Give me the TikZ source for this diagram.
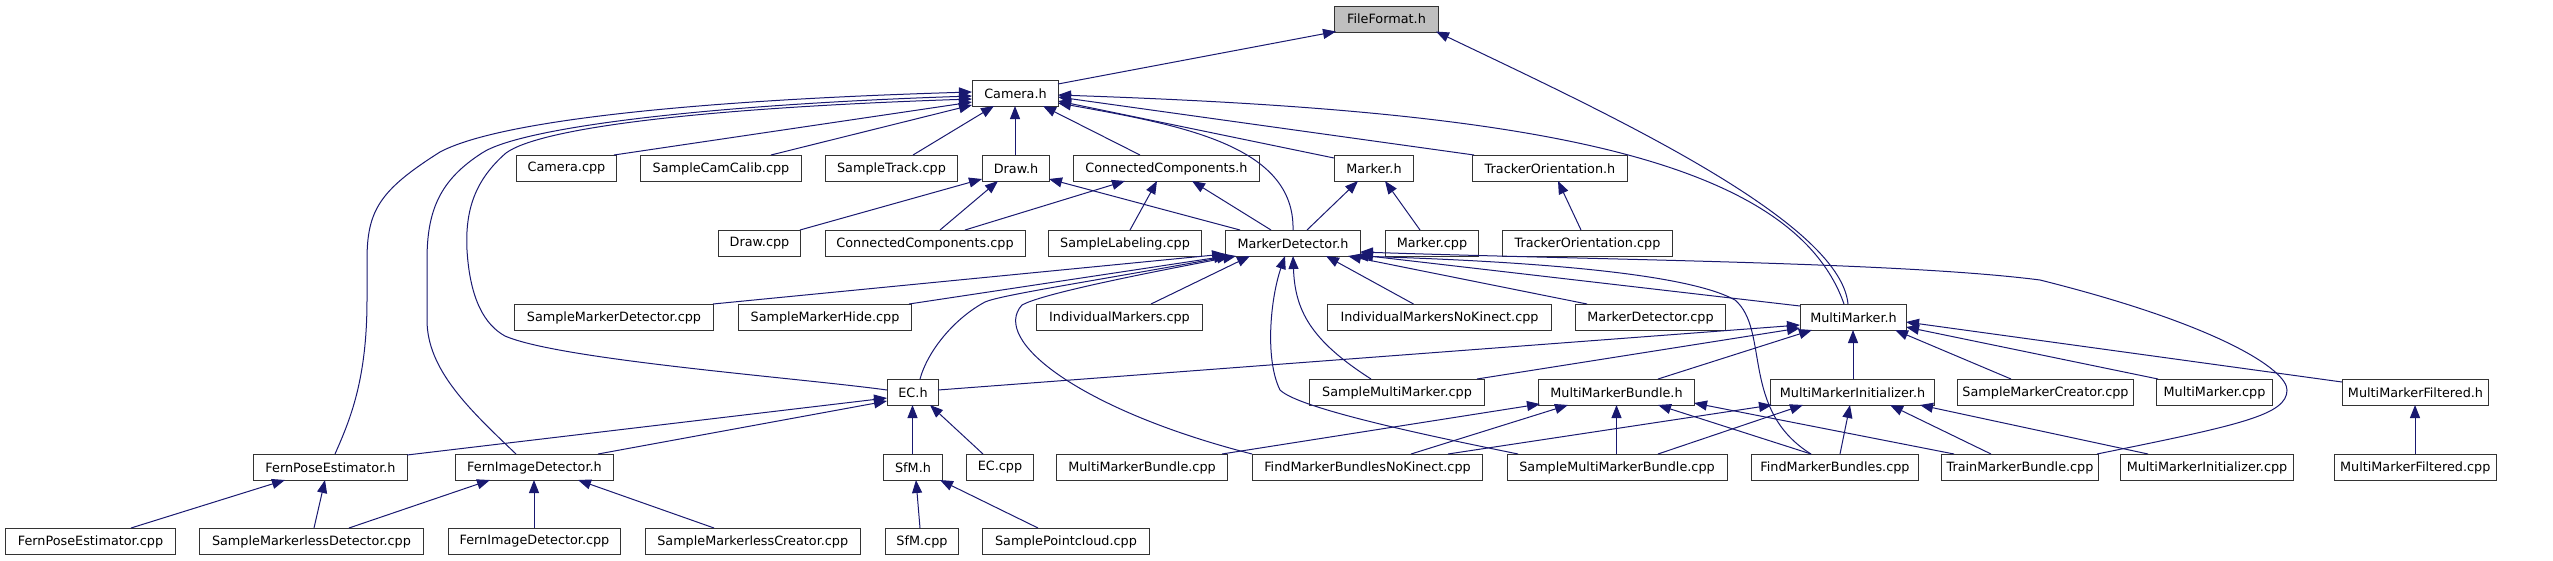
\documentclass[tikz,border=0pt]{standalone}
\usepackage{fontspec}
\setmainfont{DejaVu Sans}
\usetikzlibrary{arrows.meta}
\definecolor{edgeblue}{HTML}{191970}
\definecolor{boxline}{HTML}{333333}
\definecolor{hilite}{HTML}{BFBFBF}
\tikzset{
  box/.style={draw=boxline, line width=1pt, fill=white, anchor=north west,
    minimum height=26pt, inner sep=0pt, font=\fontsize{12.8}{14}\selectfont},
  dep/.style={draw=edgeblue, line width=1pt, arrows={Triangle[length=13pt,width=10pt]-}}
}
\begin{document}
\begin{tikzpicture}[x=1pt,y=-1pt]
\useasboundingbox (0,0) rectangle (2553,560);
% row 0
\node[box,minimum width=104pt,fill=hilite] (ff) at (1334,5.5) {FileFormat.h};
% row 1
\node[box,minimum width=86pt] (camh) at (972,80) {Camera.h};
% row 2
\node[box,minimum width=100pt] (campp) at (516,155) {Camera.cpp};
\node[box,minimum width=161pt] (scc) at (640,155) {SampleCamCalib.cpp};
\node[box,minimum width=132pt] (st) at (825,155) {SampleTrack.cpp};
\node[box,minimum width=67pt] (drawh) at (982,155) {Draw.h};
\node[box,minimum width=186pt] (cch) at (1073,155) {ConnectedComponents.h};
\node[box,minimum width=79pt] (markh) at (1334,155) {Marker.h};
\node[box,minimum width=155pt] (toh) at (1472,155) {TrackerOrientation.h};
% row 3
\node[box,minimum width=82pt] (drawcpp) at (718,230) {Draw.cpp};
\node[box,minimum width=200pt] (cccpp) at (824.5,230) {ConnectedComponents.cpp};
\node[box,minimum width=153pt] (slab) at (1048,230) {SampleLabeling.cpp};
\node[box,minimum width=135pt] (mdh) at (1225,230) {MarkerDetector.h};
\node[box,minimum width=93pt] (markcpp) at (1385,230) {Marker.cpp};
\node[box,minimum width=170pt] (tocpp) at (1502,230) {TrackerOrientation.cpp};
% row 4
\node[box,minimum width=199pt] (smd) at (514,304) {SampleMarkerDetector.cpp};
\node[box,minimum width=173pt] (smh) at (738,304) {SampleMarkerHide.cpp};
\node[box,minimum width=166pt] (im) at (1036,304) {IndividualMarkers.cpp};
\node[box,minimum width=224pt] (imnk) at (1327,304) {IndividualMarkersNoKinect.cpp};
\node[box,minimum width=150pt] (mdcpp) at (1575,304) {MarkerDetector.cpp};
\node[box,minimum width=106pt] (mmh) at (1800,304) {MultiMarker.h};
% row 5
\node[box,minimum width=51pt] (ech) at (887,379) {EC.h};
\node[box,minimum width=175pt] (smm) at (1309,379) {SampleMultiMarker.cpp};
\node[box,minimum width=156pt] (mmbh) at (1538,379) {MultiMarkerBundle.h};
\node[box,minimum width=164pt] (mmih) at (1770,379) {MultiMarkerInitializer.h};
\node[box,minimum width=176pt] (smc) at (1957,379) {SampleMarkerCreator.cpp};
\node[box,minimum width=116pt] (mmcpp) at (2156,379) {MultiMarker.cpp};
\node[box,minimum width=146pt] (mmfh) at (2342,379) {MultiMarkerFiltered.h};
% row 6
\node[box,minimum width=154pt] (fpeh) at (253,454) {FernPoseEstimator.h};
\node[box,minimum width=158pt] (fidh) at (455,454) {FernImageDetector.h};
\node[box,minimum width=59pt] (sfmh) at (883,454) {SfM.h};
\node[box,minimum width=67pt] (eccpp) at (966,454) {EC.cpp};
\node[box,minimum width=171pt] (mmbcpp) at (1056,454) {MultiMarkerBundle.cpp};
\node[box,minimum width=230pt] (fmbnk) at (1252,454) {FindMarkerBundlesNoKinect.cpp};
\node[box,minimum width=220pt] (smmb) at (1506.5,454) {SampleMultiMarkerBundle.cpp};
\node[box,minimum width=167pt] (fmb) at (1751,454) {FindMarkerBundles.cpp};
\node[box,minimum width=157pt] (tmb) at (1941,454) {TrainMarkerBundle.cpp};
\node[box,minimum width=173pt] (mmicpp) at (2120,454) {MultiMarkerInitializer.cpp};
\node[box,minimum width=161.5pt] (mmfcpp) at (2334,454) {MultiMarkerFiltered.cpp};
% row 7
\node[box,minimum width=170pt] (fpecpp) at (5,528) {FernPoseEstimator.cpp};
\node[box,minimum width=224pt] (smld) at (199,528) {SampleMarkerlessDetector.cpp};
\node[box,minimum width=172pt] (fidcpp) at (448,528) {FernImageDetector.cpp};
\node[box,minimum width=215.5pt] (smlc) at (644.5,528) {SampleMarkerlessCreator.cpp};
\node[box,minimum width=73pt] (sfmcpp) at (885,528) {SfM.cpp};
\node[box,minimum width=167pt] (spc) at (982,528) {SamplePointcloud.cpp};

% FileFormat.h
\draw[dep] ([shift={(2,26)}]ff.north west) -- ([shift={(86,4)}]camh.north west);
\draw[dep] ([shift={(102,26)}]ff.north west) .. controls (1600,110) and (1840,220) .. ([shift={(48,0)}]mmh.north west);
% Camera.h
\draw[dep] ([shift={(86,15)}]camh.north west) .. controls (1500,110) and (1790,150) .. ([shift={(44,0)}]mmh.north west);
\draw[dep] ([shift={(0,22)}]camh.north west) -- ([shift={(98,0)}]campp.north west);
\draw[dep] ([shift={(0,25)}]camh.north west) -- ([shift={(131,0)}]scc.north west);
\draw[dep] ([shift={(22,26)}]camh.north west) -- ([shift={(88,0)}]st.north west);
\draw[dep] ([shift={(43,26)}]camh.north west) -- ([shift={(33,0)}]drawh.north west);
\draw[dep] ([shift={(71,26)}]camh.north west) -- ([shift={(67,0)}]cch.north west);
\draw[dep] ([shift={(86,21)}]camh.north west) -- ([shift={(0,3)}]markh.north west);
\draw[dep] ([shift={(86,17)}]camh.north west) -- ([shift={(2,0)}]toh.north west);
\draw[dep] ([shift={(86,23)}]camh.north west) .. controls (1180,125) and (1295,145) .. ([shift={(68,0)}]mdh.north west);
\draw[dep] ([shift={(0,19)}]camh.north west) .. controls (700,108) and (540,128) .. (506,153) .. controls (475,180) and (465,210) .. (467,250) .. controls (470,300) and (485,325) .. (505,336) .. controls (560,360) and (800,378) .. ([shift={(0,11)}]ech.north west);
\draw[dep] ([shift={(0,12)}]camh.north west) .. controls (700,100) and (500,120) .. (440,152) .. controls (380,190) and (367,210) .. (367,260) -- (367,300) .. controls (367,380) and (350,420) .. ([shift={(82,0)}]fpeh.north west);
\draw[dep] ([shift={(0,16)}]camh.north west) .. controls (700,105) and (520,128) .. (482,153) .. controls (440,180) and (427,210) .. (427,260) -- (427,320) .. controls (427,370) and (470,410) .. ([shift={(61,0)}]fidh.north west);
% Draw.h, ConnectedComponents.h, Marker.h, TrackerOrientation.h
\draw[dep] ([shift={(0,24)}]drawh.north west) -- ([shift={(82,0)}]drawcpp.north west);
\draw[dep] ([shift={(16,26)}]drawh.north west) -- ([shift={(115.5,0)}]cccpp.north west);
\draw[dep] ([shift={(67,24)}]drawh.north west) -- ([shift={(15,0)}]mdh.north west);
\draw[dep] ([shift={(52,26)}]cch.north west) -- ([shift={(140.5,0)}]cccpp.north west);
\draw[dep] ([shift={(84,26)}]cch.north west) -- ([shift={(82,0)}]slab.north west);
\draw[dep] ([shift={(119,26)}]cch.north west) -- ([shift={(46,0)}]mdh.north west);
\draw[dep] ([shift={(24,26)}]markh.north west) -- ([shift={(82,0)}]mdh.north west);
\draw[dep] ([shift={(51,26)}]markh.north west) -- ([shift={(35,0)}]markcpp.north west);
\draw[dep] ([shift={(86,26)}]toh.north west) -- ([shift={(79,0)}]tocpp.north west);
% MarkerDetector.h
\draw[dep] ([shift={(0,24)}]mdh.north west) -- ([shift={(199,0)}]smd.north west);
\draw[dep] ([shift={(2,26)}]mdh.north west) -- ([shift={(171,0)}]smh.north west);
\draw[dep] ([shift={(5,26)}]mdh.north west) .. controls (1100,280) and (1000,295) .. (985,302) .. controls (955,318) and (928,350) .. ([shift={(33,0)}]ech.north west);
\draw[dep] ([shift={(11,26)}]mdh.north west) .. controls (1120,278) and (1040,295) .. (1022,305) .. controls (990,340) and (1080,410) .. ([shift={(0,0)}]fmbnk.north west);
\draw[dep] ([shift={(25,26)}]mdh.north west) -- ([shift={(115,0)}]im.north west);
\draw[dep] ([shift={(60,26)}]mdh.north west) .. controls (1270,300) and (1265,360) .. (1280,390) .. controls (1300,410) and (1450,440) .. ([shift={(11.5,0)}]smmb.north west);
\draw[dep] ([shift={(68,26)}]mdh.north west) .. controls (1295,310) and (1310,340) .. ([shift={(62,0)}]smm.north west);
\draw[dep] ([shift={(101,26)}]mdh.north west) -- ([shift={(86.5,0)}]imnk.north west);
\draw[dep] ([shift={(123,26)}]mdh.north west) -- ([shift={(12,0)}]mdcpp.north west);
\draw[dep] ([shift={(130,26)}]mdh.north west) .. controls (1550,262) and (1690,275) .. (1735,300) .. controls (1770,330) and (1740,410) .. ([shift={(60,0)}]fmb.north west);
\draw[dep] ([shift={(135,25)}]mdh.north west) -- ([shift={(0,2)}]mmh.north west);
\draw[dep] ([shift={(135,22)}]mdh.north west) .. controls (1600,260) and (1900,262) .. (2040,280) .. controls (2220,325) and (2287,370) .. (2287,390) .. controls (2287,415) and (2240,425) .. ([shift={(156,0)}]tmb.north west);
% MultiMarker.h
\draw[dep] ([shift={(0,24)}]mmh.north west) -- ([shift={(168,0)}]smm.north west);
\draw[dep] ([shift={(0,21)}]mmh.north west) -- ([shift={(51,11)}]ech.north west);
\draw[dep] ([shift={(12,26)}]mmh.north west) -- ([shift={(120,0)}]mmbh.north west);
\draw[dep] ([shift={(53,26)}]mmh.north west) -- ([shift={(83,0)}]mmih.north west);
\draw[dep] ([shift={(95,26)}]mmh.north west) -- ([shift={(54,0)}]smc.north west);
\draw[dep] ([shift={(106,23)}]mmh.north west) -- ([shift={(2,0)}]mmcpp.north west);
\draw[dep] ([shift={(106,18)}]mmh.north west) -- ([shift={(0,3)}]mmfh.north west);
% EC.h
\draw[dep] ([shift={(25.5,26)}]ech.north west) -- ([shift={(29.5,0)}]sfmh.north west);
\draw[dep] ([shift={(43,26)}]ech.north west) -- ([shift={(17,0)}]eccpp.north west);
\draw[dep] ([shift={(0,19)}]ech.north west) -- ([shift={(154,1)}]fpeh.north west);
\draw[dep] ([shift={(0,22)}]ech.north west) -- ([shift={(143,0)}]fidh.north west);
% SfM.h
\draw[dep] ([shift={(33,26)}]sfmh.north west) -- ([shift={(35,0)}]sfmcpp.north west);
\draw[dep] ([shift={(57,26)}]sfmh.north west) -- ([shift={(56,0)}]spc.north west);
% Fern
\draw[dep] ([shift={(32,26)}]fpeh.north west) -- ([shift={(126,0)}]fpecpp.north west);
\draw[dep] ([shift={(72,26)}]fpeh.north west) -- ([shift={(115,0)}]smld.north west);
\draw[dep] ([shift={(35,26)}]fidh.north west) -- ([shift={(150,0)}]smld.north west);
\draw[dep] ([shift={(79,26)}]fidh.north west) -- ([shift={(86,0)}]fidcpp.north west);
\draw[dep] ([shift={(123,26)}]fidh.north west) -- ([shift={(69.5,0)}]smlc.north west);
% MultiMarkerBundle.h
\draw[dep] ([shift={(2,25)}]mmbh.north west) -- ([shift={(166,0)}]mmbcpp.north west);
\draw[dep] ([shift={(30,26)}]mmbh.north west) -- ([shift={(159,0)}]fmbnk.north west);
\draw[dep] ([shift={(78.5,26)}]mmbh.north west) -- ([shift={(110,0)}]smmb.north west);
\draw[dep] ([shift={(120,26)}]mmbh.north west) -- ([shift={(60,0)}]fmb.north west);
\draw[dep] ([shift={(156,24)}]mmbh.north west) -- ([shift={(13,0)}]tmb.north west);
% MultiMarkerInitializer.h
\draw[dep] ([shift={(2,26)}]mmih.north west) -- ([shift={(196,0)}]fmbnk.north west);
\draw[dep] ([shift={(33,26)}]mmih.north west) -- ([shift={(151.5,0)}]smmb.north west);
\draw[dep] ([shift={(80,26)}]mmih.north west) -- ([shift={(89,0)}]fmb.north west);
\draw[dep] ([shift={(120,26)}]mmih.north west) -- ([shift={(50,0)}]tmb.north west);
\draw[dep] ([shift={(150,26)}]mmih.north west) -- ([shift={(28,0)}]mmicpp.north west);
% MultiMarkerFiltered.h
\draw[dep] ([shift={(73,26)}]mmfh.north west) -- ([shift={(81,0)}]mmfcpp.north west);
\end{tikzpicture}
\end{document}
